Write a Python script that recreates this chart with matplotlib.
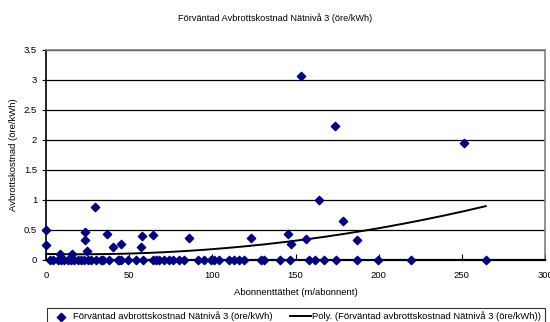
import numpy as np
import matplotlib.pyplot as plt

plt.rcParams['font.family'] = ['Liberation Sans', 'DejaVu Sans']

# Abonnenttäthet (m/abonnent) and avbrottskostnad (öre/kWh) per område
x_pos = [0, 0, 29.4, 23.6, 23.6, 24.4, 36.4, 40, 45, 57.6, 57, 64, 86, 123,
         8, 15.6, 153.2, 173.7, 251.1, 164, 178.3, 145.4, 147.4, 156.2, 186.7]
y_pos = [0.5, 0.25, 0.88, 0.46, 0.33, 0.14, 0.43, 0.22, 0.27, 0.39, 0.22, 0.41,
         0.37, 0.37, 0.09, 0.09, 3.07, 2.23, 1.95, 0.99, 0.64, 0.43, 0.27, 0.35, 0.33]

x_zero = [2, 4, 7, 9, 11, 13, 15, 17, 19, 21, 23, 25, 27, 30, 33, 34.4, 38, 43,
          44, 45, 49, 54, 58, 64, 66, 68, 71, 74, 76, 80, 83, 91, 95, 99, 101,
          104, 110, 113, 116, 119, 129, 131, 140.6, 146.4, 157.8, 161.7, 167,
          174.4, 187, 199.4, 219.6, 264.3]

x = np.array(x_pos + x_zero)
y = np.array(y_pos + [0.0] * len(x_zero))

# polynomtrend (ordning 2)
coef = np.polyfit(x, y, 2)
xt = np.linspace(0, x.max(), 200)
yt = np.polyval(coef, xt)

fs = 6.8

fig = plt.figure(figsize=(5.5, 3.22), dpi=100)
ax = fig.add_axes([0.084, 0.193, 0.907, 0.652])

label = 'Förväntad avbrottskostnad Nätnivå 3 (öre/kWh)'
ax.scatter(x, y, marker='D', s=18, color='#000080', zorder=4, clip_on=False,
           label=label)
ax.plot(xt, yt, color='black', lw=1.4, zorder=3, label=f'Poly. ({label})')

ax.set_xlim(0, 300)
ax.set_ylim(0, 3.5)
ax.set_xticks(np.arange(0, 301, 50))
ax.set_yticks(np.arange(0, 3.51, 0.5))
ax.set_yticklabels(['0', '0.5', '1', '1.5', '2', '2.5', '3', '3.5'])
ax.yaxis.grid(True, color='black', lw=0.9)
ax.set_axisbelow(True)
ax.tick_params(axis='x', direction='in', length=4, labelsize=fs, pad=8)
ax.tick_params(axis='y', direction='out', length=3, labelsize=fs)

for s in ['top', 'right']:
    ax.spines[s].set_color('#808080')
    ax.spines[s].set_linewidth(1.2)
ax.spines['left'].set_linewidth(1.2)
ax.spines['bottom'].set_linewidth(1.6)

ax.set_xlabel('Abonnenttäthet (m/abonnent)', fontsize=fs, labelpad=6)
ax.set_ylabel('Avbrottskostnad (öre/kWh)', fontsize=fs, labelpad=4)
fig.text(0.5, 0.944, 'Förväntad Avbrottskostnad Nätnivå 3 (öre/kWh)',
         ha='center', va='center', fontsize=6.6)

leg = fig.legend(loc='upper left', bbox_to_anchor=(0.0855, 0.044), ncol=2,
                 fontsize=fs, frameon=True, fancybox=False, edgecolor='black',
                 handlelength=2.2, columnspacing=1.9, handletextpad=0.1,
                 borderpad=0.4, borderaxespad=0)
leg.get_frame().set_linewidth(0.8)

fig.savefig('out.png', dpi=100)
